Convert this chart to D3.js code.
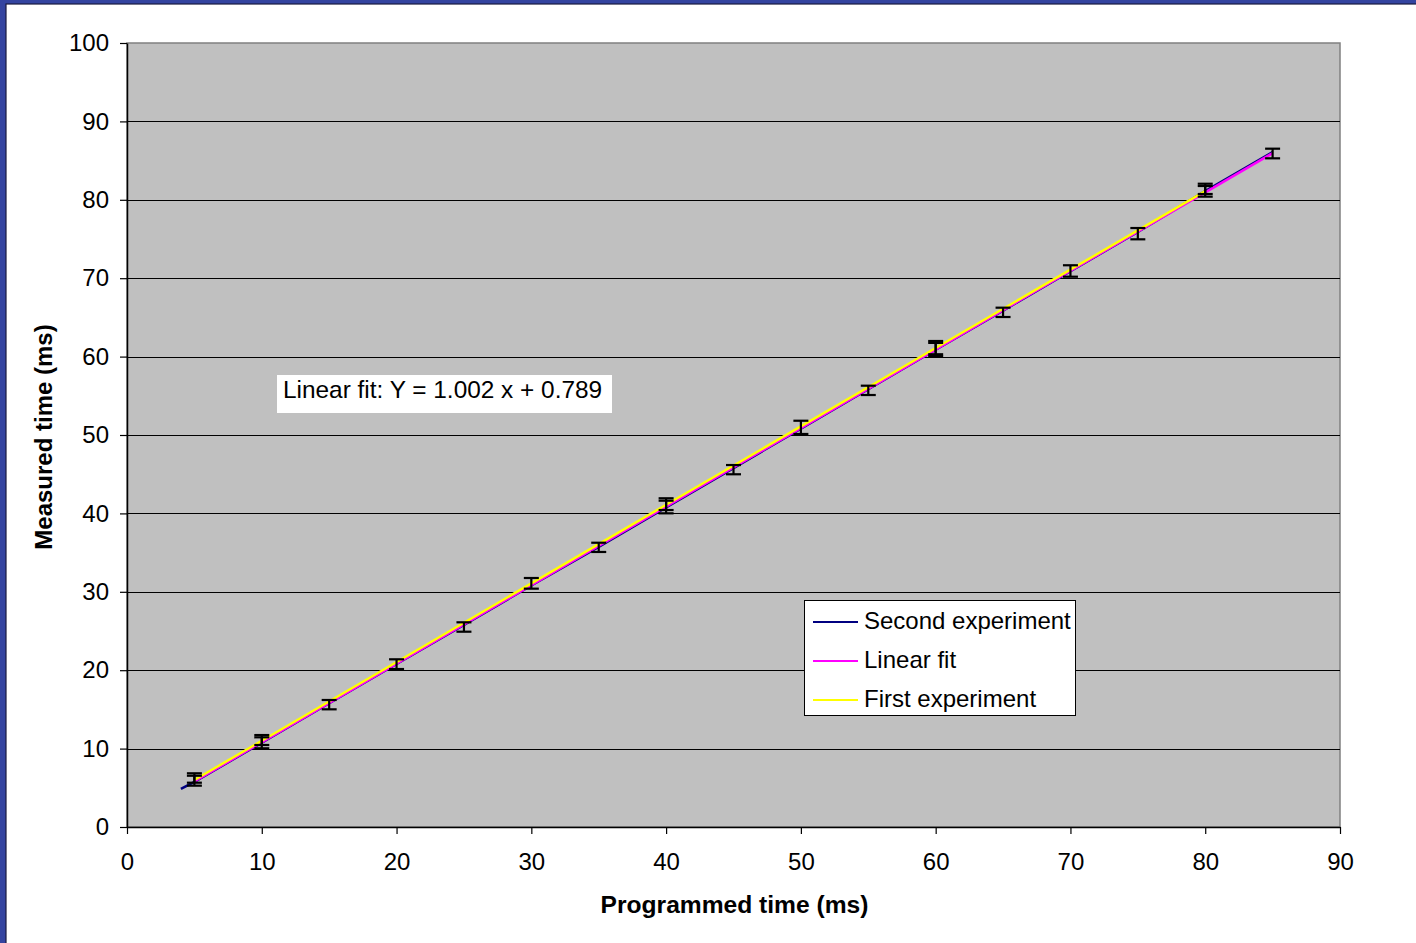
<!DOCTYPE html>
<html>
<head>
<meta charset="utf-8">
<script src="https://cdn.jsdelivr.net/npm/d3@7/dist/d3.min.js"></script>
<style>
  html, body { margin: 0; padding: 0; background: #ffffff; }
  svg { display: block; font-family: "Liberation Sans", Arial, sans-serif; }
</style>
</head>
<body>
<svg id="chart" width="1416" height="943"></svg>
<script>
// Axis ticks
const xTicks = [0, 10, 20, 30, 40, 50, 60, 70, 80, 90];
const yTicks = [0, 10, 20, 30, 40, 50, 60, 70, 80, 90, 100];

// Second experiment: programmed vs measured time (ms)
const secondX = [4, 5, 10, 15, 20, 25, 30, 35, 40, 45, 50, 55, 60, 65, 70, 75, 80, 85];
const secondY = [4.85, 5.75, 10.75, 15.78, 20.8, 25.78, 30.8, 35.74, 40.76, 45.78, 50.82, 55.85, 60.88, 65.86, 70.9, 75.9, 81.1, 86.1];

// First experiment
const firstX = [5, 10, 40, 60, 80];
const firstY = [6.0, 11.0, 41.1, 61.1, 81.1];

// Linear fit as given in the annotation
const fitSlope = 1.002;
const fitIntercept = 0.789;
const fitX = [5, 85];

// Error bars (low / high), second experiment
const errX    = [5, 10, 15, 20, 25, 30, 35, 40, 45, 50, 55, 60, 65, 70, 75, 80, 85];
const errLow  = [5.27, 10.04, 15.01, 20.15, 24.91, 30.4, 35.08, 40.01, 44.99, 50.13, 55.1, 60.08, 65.05, 70.19, 74.96, 80.4, 85.29];
const errHigh = [6.85, 11.73, 16.2, 21.39, 26.11, 31.76, 36.26, 41.93, 46.17, 51.82, 56.29, 61.99, 66.24, 71.65, 76.4, 82.05, 86.52];

// Error bars (low / high), first experiment
const errFirstX    = [5, 10, 40, 60, 80];
const errFirstLow  = [5.65, 10.46, 40.43, 60.3, 80.74];
const errFirstHigh = [6.54, 11.44, 41.62, 61.75, 81.76];

// Legend entries
const legendLabels = ["Second experiment", "Linear fit", "First experiment"];
const legendColors = ["#000080", "#ff00ff", "#ffff00"];

const fitLabel = "Linear fit: Y = 1.002 x + 0.789";

const svg = d3.select("#chart");

// Outer frame
svg.append("rect").attr("x", 0).attr("y", 0).attr("width", 1416).attr("height", 943).attr("fill", "#3444a0");
svg.append("rect").attr("x", 6).attr("y", 4).attr("width", 1416).attr("height", 943)
  .attr("fill", "#ffffff").attr("stroke", "#1a1a40").attr("stroke-width", 1.2);

const x = d3.scaleLinear().domain([0, 90]).range([127, 1340]);
const y = d3.scaleLinear().domain([0, 100]).range([827, 43]);

// Plot area
svg.append("rect")
  .attr("x", x(0)).attr("y", y(100))
  .attr("width", x(90) - x(0)).attr("height", y(0) - y(100))
  .attr("fill", "#c0c0c0").attr("stroke", "#808080").attr("stroke-width", 1.5);

// Horizontal gridlines
svg.append("g")
  .selectAll("line")
  .data(yTicks.filter(d => d > 0 && d < 100))
  .join("line")
  .attr("x1", x(0)).attr("x2", x(90))
  .attr("y1", d => Math.round(y(d)) + 0.5).attr("y2", d => Math.round(y(d)) + 0.5)
  .attr("stroke", "#000000").attr("stroke-width", 1.2);

// Axes
const xAxis = svg.append("g")
  .attr("transform", `translate(0,${y(0)})`)
  .call(d3.axisBottom(x).tickValues(xTicks).tickFormat(d3.format("d")).tickSize(7).tickSizeOuter(0).tickPadding(19));
const yAxis = svg.append("g")
  .attr("transform", `translate(${x(0)},0)`)
  .call(d3.axisLeft(y).tickValues(yTicks).tickFormat(d3.format("d")).tickSize(7).tickSizeOuter(0).tickPadding(11));

[xAxis, yAxis].forEach(g => {
  g.select(".domain").attr("stroke", "#000000").attr("stroke-width", 1.5);
  g.selectAll(".tick line").attr("stroke", "#000000").attr("stroke-width", 1.2);
  g.selectAll(".tick text").attr("fill", "#000000")
    .style("font-family", "'Liberation Sans', Arial, sans-serif").style("font-size", "24px");
});

// Axis titles
svg.append("text")
  .attr("x", (x(0) + x(90)) / 2 + 1).attr("y", 913)
  .attr("text-anchor", "middle").attr("font-weight", "bold").attr("font-size", 24.6)
  .text("Programmed time (ms)");
svg.append("text")
  .attr("transform", `translate(52,${(y(0) + y(100)) / 2 + 2}) rotate(-90)`)
  .attr("text-anchor", "middle").attr("font-weight", "bold").attr("font-size", 24)
  .text("Measured time (ms)");

const line = d3.line().x(d => x(d[0])).y(d => y(d[1]));

// Series lines: second experiment, linear fit, first experiment
svg.append("path")
  .datum(secondX.map((v, i) => [v, secondY[i]]))
  .attr("d", line).attr("fill", "none").attr("stroke", legendColors[0]).attr("stroke-width", 2.5);

svg.append("path")
  .datum(fitX.map(v => [v, fitSlope * v + fitIntercept]))
  .attr("d", line).attr("fill", "none").attr("stroke", legendColors[1]).attr("stroke-width", 2.5);

svg.append("path")
  .datum(firstX.map((v, i) => [v, firstY[i]]))
  .attr("d", line).attr("fill", "none").attr("stroke", legendColors[2]).attr("stroke-width", 2.5);

// Error bars
function drawErrorBars(xs, lows, highs) {
  const g = svg.append("g").attr("stroke", "#000000").attr("stroke-width", 2.2).attr("fill", "none");
  const data = xs.map((v, i) => ({ x: v, lo: lows[i], hi: highs[i] }));
  g.selectAll("line.v").data(data).join("line").attr("class", "v")
    .attr("x1", d => x(d.x)).attr("x2", d => x(d.x))
    .attr("y1", d => y(d.lo)).attr("y2", d => y(d.hi));
  g.selectAll("line.top").data(data).join("line").attr("class", "top")
    .attr("x1", d => x(d.x) - 7.5).attr("x2", d => x(d.x) + 7.5)
    .attr("y1", d => y(d.hi)).attr("y2", d => y(d.hi));
  g.selectAll("line.bot").data(data).join("line").attr("class", "bot")
    .attr("x1", d => x(d.x) - 7.5).attr("x2", d => x(d.x) + 7.5)
    .attr("y1", d => y(d.lo)).attr("y2", d => y(d.lo));
}
drawErrorBars(errX, errLow, errHigh);
drawErrorBars(errFirstX, errFirstLow, errFirstHigh);

// Fit annotation
svg.append("rect").attr("x", 277).attr("y", 375).attr("width", 335).attr("height", 38).attr("fill", "#ffffff");
svg.append("text").attr("x", 283).attr("y", 398).attr("font-size", 24.4).attr("fill", "#000000").text(fitLabel);

// Legend
const legend = svg.append("g");
legend.append("rect").attr("x", 804.5).attr("y", 600.5).attr("width", 271).attr("height", 115)
  .attr("fill", "#ffffff").attr("stroke", "#000000").attr("stroke-width", 1);
legendLabels.forEach((label, i) => {
  const cy = 622 + i * 39;
  legend.append("line").attr("x1", 813).attr("x2", 858).attr("y1", cy).attr("y2", cy)
    .attr("stroke", legendColors[i]).attr("stroke-width", 2);
  legend.append("text").attr("x", 864).attr("y", cy + 7).attr("font-size", 24).attr("fill", "#000000").text(label);
});
</script>
</body>
</html>
